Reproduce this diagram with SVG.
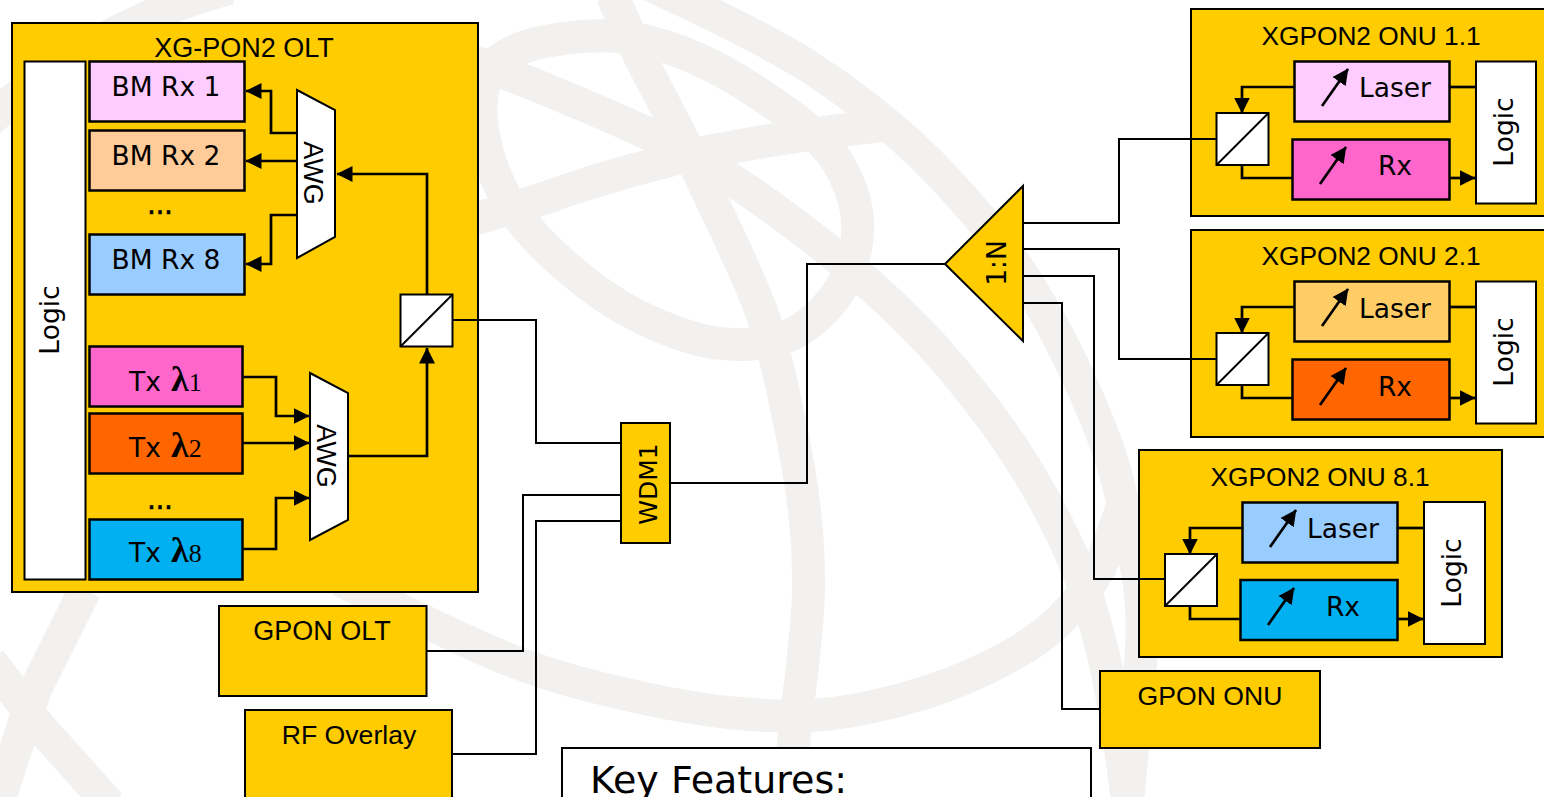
<svg xmlns="http://www.w3.org/2000/svg" width="1544" height="797" viewBox="0 0 1544 797">
<style>
.wm{fill:none;stroke:#f2f1f0;stroke-width:33}
.y{fill:#ffcc00;stroke:#000;stroke-width:2}
.b{stroke:#000;stroke-width:2.500}
.w{fill:#fff;stroke:#000;stroke-width:2}
.c{fill:none;stroke:#000;stroke-width:2}
.c2{fill:none;stroke:#000;stroke-width:2.700}
.h{font-family:"Liberation Sans",Arial,sans-serif;font-size:26.600px;fill:#000}
.v{font-family:"DejaVu Sans",Verdana,sans-serif;font-size:26.500px;fill:#000}
.s{font-family:"Liberation Serif",serif;font-size:26px;text-anchor:start}
.d{stroke:#000;stroke-width:.7}
text{text-anchor:middle}
</style>
<defs>
<marker id="a" markerUnits="userSpaceOnUse" markerWidth="17" markerHeight="18" refX="15.500" refY="9" orient="auto"><path d="M0,1L16,9L0,17z" fill="#000"/></marker>
</defs>
<g id="watermark">
<path class="wm" d="M-20,130C40,70 130,15 230,-12"/>
<path class="wm" d="M613,36Q583,35 548,41Q513,47 496,63Q480,80 481,115Q483,150 500,186Q517,223 560,261Q603,300 646,320Q690,340 717,343Q745,347 772,341Q800,335 824,310Q848,285 855,252Q862,220 851,190Q840,160 821,141Q803,123 761,95Q720,67 681,52Q643,38 613,36Z"/>
<path class="wm" d="M612,-5L640,57L683,140L713,203Q755,290 766,325Q777,360 788,415Q800,470 805,515Q810,560 808,605Q805,650 797,710L788,797"/>
<path class="wm" d="M470,220Q527,205 562,192Q597,180 633,170Q670,160 706,152Q743,145 773,140Q803,135 885,125"/>
<path class="wm" d="M650,-15Q763,37 811,68Q860,100 901,136Q943,173 988,228Q1033,283 1070,360Q1107,437 1118,483Q1130,530 1138,575Q1145,620 1140,670L1128,797"/>
<path class="wm" d="M470,60L523,80Q653,133 696,158Q740,183 793,223Q847,263 890,303Q933,343 970,390Q1008,437 1034,482Q1060,527 1075,563Q1090,600 1102,650Q1115,700 1127,797"/>
<path class="wm" d="M340,580Q450,635 500,656Q550,677 616,692Q683,708 733,713Q783,718 816,715Q850,713 900,700Q950,687 993,665Q1037,643 1060,620Q1083,597 1100,568L1125,500"/>
<path class="wm" d="M85,590L35,690L0,797"/>
<path class="wm" d="M-10,660L40,727L110,805"/>
</g>
<g id="olt">
<rect class="y" x="12" y="23" width="466" height="569"/>
<text class="h" x="244" y="57" style="font-size:27px">XG-PON2 OLT</text>
<rect class="w" x="24.500" y="61.500" width="61" height="518"/>
<text class="v" transform="translate(59,320) rotate(-90)">Logic</text>
<rect class="b" fill="#ffccff" x="89.500" y="61.500" width="155" height="60"/>
<text class="v" x="166" y="96">BM Rx 1</text>
<rect class="b" fill="#ffcc99" x="89.500" y="130.500" width="155" height="60"/>
<text class="v" x="166" y="165">BM Rx 2</text>
<text class="v d" x="160" y="214">...</text>
<rect class="b" fill="#99ccff" x="89.500" y="234.500" width="155" height="60"/>
<text class="v" x="166" y="269">BM Rx 8</text>
<path class="w" d="M297,90L335,110V237L297,258z"/>
<text class="h" transform="translate(304,173) rotate(90)" style="font-size:27px">AWG</text>
<path class="c2" marker-end="url(#a)" d="M297,133H271V91H246"/>
<path class="c2" marker-end="url(#a)" d="M297,161H246"/>
<path class="c2" marker-end="url(#a)" d="M297,215H271V264H246"/>
<path class="c2" marker-end="url(#a)" d="M427,295V174H337"/>
<rect class="w" x="400.500" y="294.500" width="52" height="52"/>
<path class="c" d="M400.500,346.500L452.500,294.500"/>
<rect class="b" fill="#ff66cc" x="89.500" y="346.500" width="153" height="60"/>
<text class="v" x="145" y="391">Tx</text><text class="s" x="171" y="391"><tspan font-weight="bold" font-size="36">λ</tspan>1</text>
<rect class="b" fill="#ff6600" x="89.500" y="413.500" width="153" height="60"/>
<text class="v" x="145" y="457">Tx</text><text class="s" x="171" y="457"><tspan font-weight="bold" font-size="36">λ</tspan>2</text>
<text class="v d" x="160" y="509">...</text>
<rect class="b" fill="#00b0f0" x="89.500" y="519.500" width="153" height="60"/>
<text class="v" x="145" y="562">Tx</text><text class="s" x="171" y="562"><tspan font-weight="bold" font-size="36">λ</tspan>8</text>
<path class="w" d="M310,373L348,393V520L310,540z"/>
<text class="h" transform="translate(317,456) rotate(90)" style="font-size:27px">AWG</text>
<path class="c2" marker-end="url(#a)" d="M243,377H276V416H309"/>
<path class="c2" marker-end="url(#a)" d="M243,443H309"/>
<path class="c2" marker-end="url(#a)" d="M243,549H276V498H309"/>
<path class="c2" marker-end="url(#a)" d="M348,456H427V348"/>
</g>
<g id="gpon-olt"><rect class="y" x="219" y="606" width="207.500" height="90"/><text class="h" x="322" y="640" style="font-size:27px">GPON OLT</text></g>
<g id="rf-overlay"><rect class="y" x="245" y="710" width="207" height="100"/><text class="h" x="349" y="744">RF Overlay</text></g>
<g id="wdm1"><rect class="y" x="621" y="423" width="49" height="120"/><text class="v" transform="translate(657,484) rotate(-90)" style="font-size:25px">WDM1</text></g>
<g id="splitter"><path class="y" d="M945,264L1023,186V341z"/><text class="v" transform="translate(1006,263) rotate(-90)">1:N</text></g>
<g id="gpon-onu"><rect class="y" x="1100" y="671" width="220" height="77"/><text class="h" x="1210" y="705">GPON ONU</text></g>
<g id="key"><rect fill="#fff" stroke="#000" stroke-width="2" x="562" y="748" width="529" height="70"/><text class="v" x="718.500" y="793" style="font-size:38px">Key Features:</text></g>
<g id="onu1">
<rect class="y" x="1191" y="9" width="360" height="207"/>
<text class="h" x="1371" y="45" style="font-size:26.300px">XGPON2 ONU 1.1</text>
<rect class="b" fill="#ffccff" x="1294.500" y="61.500" width="155" height="60"/>
<text class="v" x="1395" y="97">Laser</text>
<rect class="b" fill="#ff66cc" x="1292.500" y="139.500" width="157" height="60"/>
<text class="v" x="1395" y="175">Rx</text>
<rect class="w" x="1476" y="61.500" width="60" height="142"/>
<text class="v" transform="translate(1513,132) rotate(-90)">Logic</text>
<path class="c2" d="M1449,87H1476"/>
<path class="c2" marker-end="url(#a)" d="M1294,87H1242V113"/>
<path class="c2" marker-end="url(#a)" d="M1322,106L1348,69"/>
<path class="c2" marker-end="url(#a)" d="M1320,184L1346,147"/>
<path class="c2" d="M1242,164V178H1292"/>
<path class="c2" marker-end="url(#a)" d="M1449,178H1475"/>
<rect class="w" x="1216.500" y="113" width="52" height="52"/>
<path class="c" d="M1216.500,165L1268.500,113"/>
</g>
<g id="onu2">
<rect class="y" x="1191" y="230" width="360" height="207"/>
<text class="h" x="1371" y="265" style="font-size:26.300px">XGPON2 ONU 2.1</text>
<rect class="b" fill="#ffcc66" x="1294.500" y="281.500" width="155" height="60"/>
<text class="v" x="1395" y="318">Laser</text>
<rect class="b" fill="#ff6600" x="1292.500" y="359.500" width="157" height="60"/>
<text class="v" x="1395" y="396">Rx</text>
<rect class="w" x="1476" y="281.500" width="60" height="142"/>
<text class="v" transform="translate(1513,352) rotate(-90)">Logic</text>
<path class="c2" d="M1449,307H1476"/>
<path class="c2" marker-end="url(#a)" d="M1294,307H1242V333"/>
<path class="c2" marker-end="url(#a)" d="M1322,326L1348,289"/>
<path class="c2" marker-end="url(#a)" d="M1320,405L1346,368"/>
<path class="c2" d="M1242,385V398H1292"/>
<path class="c2" marker-end="url(#a)" d="M1449,398H1475"/>
<rect class="w" x="1216.500" y="333" width="52" height="52"/>
<path class="c" d="M1216.500,385L1268.500,333"/>
</g>
<g id="onu8">
<rect class="y" x="1139" y="450" width="363" height="207"/>
<text class="h" x="1320" y="486" style="font-size:26.300px">XGPON2 ONU 8.1</text>
<rect class="b" fill="#99ccff" x="1242.500" y="502.500" width="155" height="60"/>
<text class="v" x="1343" y="538">Laser</text>
<rect class="b" fill="#00b0f0" x="1240.500" y="580" width="157" height="60"/>
<text class="v" x="1343" y="616">Rx</text>
<rect class="w" x="1424" y="502" width="61" height="142"/>
<text class="v" transform="translate(1461,573) rotate(-90)">Logic</text>
<path class="c2" d="M1397,528H1424"/>
<path class="c2" marker-end="url(#a)" d="M1242,528H1190V554"/>
<path class="c2" marker-end="url(#a)" d="M1270,547L1296,510"/>
<path class="c2" marker-end="url(#a)" d="M1268,625L1294,588"/>
<path class="c2" d="M1190,605V619H1240"/>
<path class="c2" marker-end="url(#a)" d="M1397,619H1423"/>
<rect class="w" x="1165" y="554" width="52" height="52"/>
<path class="c" d="M1165,606L1217,554"/>
</g>
<g id="connectors">
<path class="c" d="M453,320H536V443H621"/>
<path class="c" d="M427,651H523V495H621"/>
<path class="c" d="M453,754H536V521H621"/>
<path class="c" d="M670,483H807V264H945"/>
<path class="c" d="M1023,223H1119V139H1216"/>
<path class="c" d="M1023,249H1119V359H1216"/>
<path class="c" d="M1023,276H1094V579H1165"/>
<path class="c" d="M1023,303H1062V709H1100"/>
</g>
</svg>
